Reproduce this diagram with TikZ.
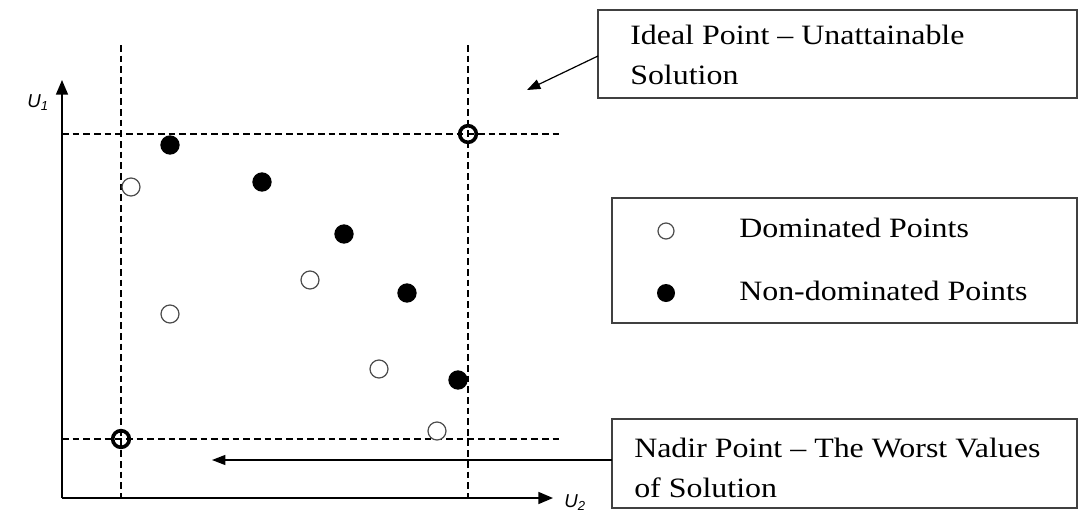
\documentclass[tikz,border=0pt]{standalone}
\usepackage{fontspec}
\setmainfont{Liberation Serif}[FakeStretch=1.14]
\setsansfont{Liberation Sans}
\usetikzlibrary{arrows.meta}
\begin{document}
\begin{tikzpicture}[x=0.75pt,y=-0.75pt,
  guide/.style={dash pattern=on 5pt off 3pt, line width=0.8pt},
  axis/.style={line width=1.2pt, -{Triangle[length=11pt,width=9pt]}},
  callout/.style={line width=0.9pt, -{Triangle[length=10pt,width=7.5pt]}},
  infobox/.style={draw=black!75, line width=1.1pt},
  txt/.style={font=\fontsize{21}{29.5}\selectfont, align=left, anchor=base west, inner sep=0pt},
  axlabel/.style={font=\sffamily\itshape\fontsize{14}{14}\selectfont},
  opendot/.style={circle, draw=black!70, line width=0.9pt, minimum size=13.5pt, inner sep=0pt, fill=white},
  fulldot/.style={circle, fill=black, minimum size=14.5pt, inner sep=0pt},
  refdot/.style={circle, draw=black, line width=2.7pt, minimum size=12.5pt, inner sep=0pt}]
\useasboundingbox (0,0) rectangle (1081,514);

% axes
\coordinate (O) at (62,498);
\coordinate (ytip) at (62,80);
\coordinate (xtip) at (553,498);
\draw[axis] (O) -- (ytip);
\draw[axis] (O) -- (xtip);
\node[axlabel] (u1) at (38,103) {U\textsubscript{1}};
\node[axlabel] (u2) at (575,503) {U\textsubscript{2}};

% guide lines through the ideal and nadir points
\draw[guide] (121,45) -- (121,498);
\draw[guide] (468,45) -- (468,498);
\draw[guide] (62,134) -- (562,134);
\draw[guide] (62,439) -- (562,439);

% ideal and nadir points
\node[refdot] (ideal) at (468,134) {};
\node[refdot] (nadir) at (121,439) {};

% non-dominated points
\foreach \n/\x/\y in {f1/170/145, f2/262/182, f3/344/234, f4/407/293, f5/458/380}
  \node[fulldot] (\n) at (\x,\y) {};
% dominated points
\foreach \n/\x/\y in {d1/131/187, d2/170/314, d3/310/280, d4/379/369, d5/437/431}
  \node[opendot] (\n) at (\x,\y) {};

% ideal point callout (base anchor sits on the last line)
\draw[infobox] (598,10) rectangle (1077,98);
\coordinate (idealbox) at (598,56);
\coordinate (idealtip) at (527,90);
\node[txt] (idealtxt) at (630,84) {Ideal Point -- Unattainable\\Solution};
\draw[callout] (idealbox) -- (idealtip);

% legend
\draw[infobox] (612,198) rectangle (1077,323);
\node[opendot, minimum size=12pt] (lopen) at (666,231) {};
\node[fulldot, minimum size=13.5pt] (lfull) at (666,293) {};
\node[txt] (ltxt1) at (739,237) {Dominated Points};
\node[txt] (ltxt2) at (739,300) {Non-dominated Points};

% nadir point callout
\draw[infobox] (612,419) rectangle (1077,508);
\coordinate (nadirbox) at (612,460);
\coordinate (nadirtip) at (212,460);
\node[txt] (nadirtxt) at (634,497) {Nadir Point -- The Worst Values\\of Solution};
\draw[callout] (nadirbox) -- (nadirtip);
\end{tikzpicture}
\end{document}
